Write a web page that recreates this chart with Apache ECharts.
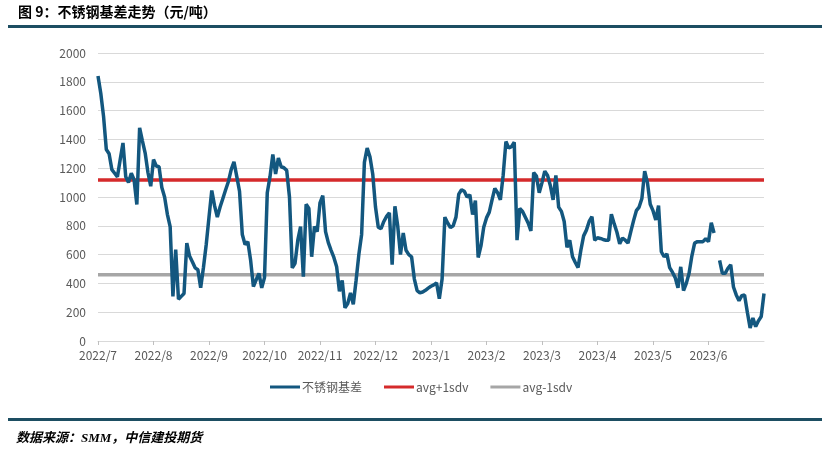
<!DOCTYPE html>
<html>
<head>
<meta charset="utf-8">
<script src="https://cdn.jsdelivr.net/npm/echarts@6/dist/echarts.min.js"></script>
<style>
html,body{margin:0;padding:0;background:#fff;}
#c{width:829px;height:452px;}
</style>
</head>
<body>
<div id="c"></div>
<script>
// Tick labels (one every 20 trading-day slots)
const tickLabels = ['2022/7','2022/8','2022/9','2022/10','2022/11','2022/12','2023/1','2023/2','2023/3','2023/4','2023/5','2023/6','2023/7'];
const slotsPerTick = 20;

// 不锈钢基差 (元/吨), one value per trading-day slot; null = missing
const basis = [
1840,1720,1560,1330,1300,1190,1165,1140,1260,1375,
1140,1100,1165,1120,948,1480,1390,1305,1170,1075,
1260,1215,1210,1066,1000,880,795,310,634,290,
310,330,680,590,550,508,495,370,510,670,
860,1045,940,860,930,990,1050,1108,1190,1245,
1143,1040,740,670,690,560,378,425,470,369,
440,1030,1143,1296,1160,1270,1210,1203,1185,1000,
508,540,700,795,446,950,920,585,795,760,
960,1010,760,683,630,580,515,345,420,230,
260,334,255,420,600,740,1240,1340,1280,1160,
930,790,780,830,865,890,530,935,800,600,
750,630,600,585,430,350,335,340,352,367,
380,390,404,293,430,860,820,787,800,860,
1020,1050,1040,1000,1015,878,975,580,660,790,
855,895,980,1060,1030,980,1150,1385,1340,1350,
1380,700,920,900,860,820,765,1170,1145,1030,
1100,1180,1150,1080,980,1150,930,900,830,650,
700,585,545,510,630,730,770,830,864,700,
717,712,705,700,700,880,815,755,675,715,
700,680,760,836,905,930,990,1180,1100,950,
905,840,940,620,585,605,510,478,440,370,
515,350,400,470,590,680,690,690,690,710,
690,822,750,null,560,470,470,505,529,375,
320,280,315,320,200,90,160,100,140,170,
330
];
const avgPlus1sdv = 1118;
const avgMinus1sdv = 460;

const seriesNames = ['不锈钢基差','avg+1sdv','avg-1sdv'];

const basisData = basis.map((v,i)=>[i,v]);
const plusData = basis.map((v,i)=>[i,avgPlus1sdv]);
const minusData = basis.map((v,i)=>[i,avgMinus1sdv]);

const chart = echarts.init(document.getElementById('c'));
const axisFont = {color:'#595959',fontSize:12,fontFamily:'"Noto Sans CJK SC","Noto Sans",sans-serif'};
chart.setOption({
  animation:false,
  backgroundColor:'#fff',
  grid:{left:98,right:65,top:53,bottom:111,containLabel:false},
  xAxis:{
    type:'value',min:0,max:(tickLabels.length-1)*slotsPerTick,interval:slotsPerTick,
    axisLine:{show:true,lineStyle:{color:'#d9d9d9',width:1}},
    axisTick:{show:true,length:4,lineStyle:{color:'#bfbfbf'}},
    splitLine:{show:false},
    axisLabel:Object.assign({margin:8,showMaxLabel:false,
      formatter:function(v){const k=Math.round(v/slotsPerTick);return (k<tickLabels.length-1)?tickLabels[k]:'';}},axisFont)
  },
  yAxis:{
    type:'value',min:0,max:2000,interval:200,
    axisLine:{show:false},axisTick:{show:false},
    splitLine:{lineStyle:{color:'#d9d9d9',width:1}},
    axisLabel:Object.assign({margin:12,formatter:function(v){return String(v);}},axisFont)
  },
  legend:{
    left:265,top:376,itemGap:22,itemWidth:30,itemHeight:3,
    textStyle:{color:'#595959',fontSize:12,fontFamily:'"Noto Sans CJK SC","Noto Sans",sans-serif',padding:[0,0,0,-3]},
    data:seriesNames.map(n=>({name:n,icon:'rect'}))
  },
  series:[
    {name:seriesNames[0],type:'line',data:basisData,showSymbol:false,symbol:'none',connectNulls:false,
     lineStyle:{color:'#13577f',width:3.5},itemStyle:{color:'#13577f'},z:3},
    {name:seriesNames[1],type:'line',data:plusData,showSymbol:false,symbol:'none',
     lineStyle:{color:'#d52a2b',width:3.5},itemStyle:{color:'#d52a2b'},z:2},
    {name:seriesNames[2],type:'line',data:minusData,showSymbol:false,symbol:'none',
     lineStyle:{color:'#a6a6a6',width:3.5},itemStyle:{color:'#a6a6a6'},z:2}
  ],
  graphic:[
    {type:'text',left:18,top:5,style:{text:'图 9：不锈钢基差走势（元/吨）',fill:'#000',
      font:'bold 14px "Noto Sans CJK SC","Liberation Serif",serif'}},
    {type:'rect',shape:{x:8,y:25,width:814,height:3},style:{fill:'#1d4e62'}},
    {type:'rect',shape:{x:8,y:418,width:814,height:3},style:{fill:'#1d4e62'}},
    {type:'text',left:16,top:432,style:{text:'数据来源：SMM，中信建投期货',fill:'#000',
      font:'italic bold 13px "Liberation Serif","Noto Sans CJK SC",serif'}}
  ]
});
</script>
</body>
</html>
